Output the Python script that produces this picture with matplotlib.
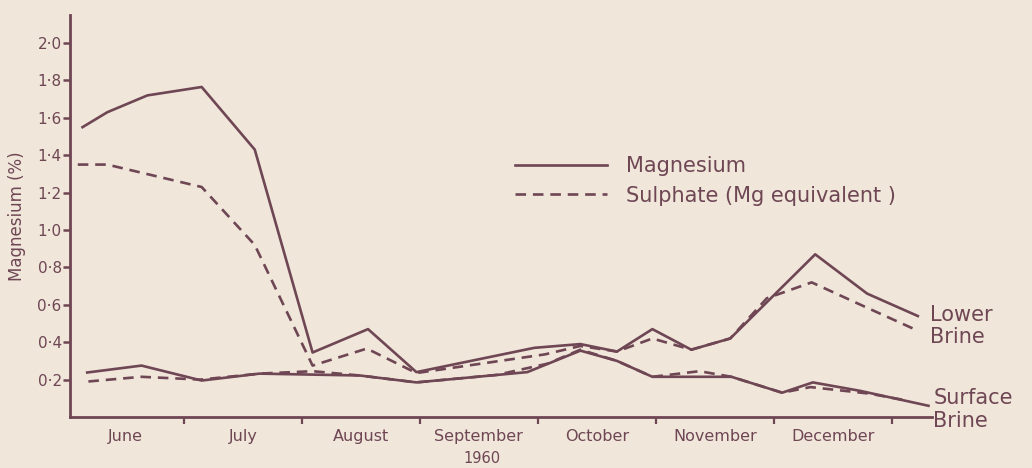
import matplotlib
matplotlib.use("Agg")
import matplotlib.pyplot as plt
from matplotlib.lines import Line2D

# x positions in month units (0 = start of June)
lower_mg_x = [0.14, 0.35, 0.69, 1.15, 1.60, 2.09, 2.56, 2.97, 3.97, 4.36, 4.67, 4.97, 5.30, 5.63, 6.35, 6.79, 7.22]
lower_mg_y = [1.55, 1.63, 1.72, 1.765, 1.43, 0.345, 0.47, 0.24, 0.37, 0.39, 0.35, 0.47, 0.36, 0.42, 0.87, 0.66, 0.54]

lower_so4_x = [0.10, 0.35, 1.15, 1.60, 2.09, 2.55, 2.97, 4.06, 4.36, 4.67, 4.97, 5.30, 5.63, 5.94, 6.32, 6.77, 7.19]
lower_so4_y = [1.35, 1.35, 1.23, 0.92, 0.275, 0.366, 0.235, 0.335, 0.38, 0.35, 0.42, 0.36, 0.42, 0.635, 0.72, 0.59, 0.47]

surf_mg_x = [0.18, 0.64, 1.15, 1.64, 2.49, 2.97, 3.91, 4.36, 4.67, 4.97, 5.64, 6.07, 6.33, 6.73, 7.31]
surf_mg_y = [0.238, 0.275, 0.195, 0.232, 0.222, 0.185, 0.24, 0.355, 0.30, 0.215, 0.215, 0.13, 0.185, 0.14, 0.06]

surf_so4_x = [0.19, 0.64, 1.14, 1.64, 2.09, 2.49, 2.97, 3.65, 4.08, 4.36, 4.67, 4.97, 5.37, 5.64, 6.07, 6.31, 6.81, 7.11]
surf_so4_y = [0.19, 0.215, 0.20, 0.232, 0.245, 0.222, 0.185, 0.225, 0.285, 0.36, 0.30, 0.215, 0.245, 0.215, 0.13, 0.16, 0.125, 0.09]

months = ["June", "July", "August", "September", "October", "November", "December"]
yticks = [0.2, 0.4, 0.6, 0.8, 1.0, 1.2, 1.4, 1.6, 1.8, 2.0]

ink = "#6e4654"
paper = "#f0e6da"
lw = 1.9
dash = (4, 2.6)

plt.rcParams['font.family'] = ['DejaVu Sans']

fig = plt.figure(figsize=(10.32, 4.68), dpi=100, facecolor=paper)
ax = fig.add_axes([70 / 1032, 51 / 468, 862 / 1032, 402 / 468])
ax.set_facecolor(paper)

ax.plot(lower_mg_x, lower_mg_y, color=ink, lw=lw)
ax.plot(lower_so4_x, lower_so4_y, color=ink, lw=lw, dashes=dash)
ax.plot(surf_mg_x, surf_mg_y, color=ink, lw=lw)
ax.plot(surf_so4_x, surf_so4_y, color=ink, lw=lw, dashes=dash)

ax.set_xlim(0.034, 7.34)
ax.set_ylim(0, 2.15)

for side in ["top", "right"]:
    ax.spines[side].set_visible(False)
for side in ["left", "bottom"]:
    ax.spines[side].set_color(ink)
    ax.spines[side].set_linewidth(2)

ax.set_yticks(yticks)
ax.set_yticklabels([f"{v:.1f}".replace(".", "·") for v in yticks])
ax.tick_params(axis='y', colors=ink, direction='out', length=5, width=1.8, labelsize=11, pad=1)

# month boundaries as ticks, names centred between them
ax.set_xticks(range(1, 8))
ax.set_xticklabels([])
ax.tick_params(axis='x', colors=ink, direction='out', length=5, width=1.6)
for i, m in enumerate(months):
    ax.text(i + 0.5, -0.105, m, color=ink, fontsize=11.5, ha='center', va='center', clip_on=False)
ax.text(3.53, -0.22, "1960", color=ink, fontsize=10.5, ha='center', va='center', clip_on=False)

ax.set_ylabel("Magnesium (%)", color=ink, fontsize=12, labelpad=8)

ax.text(7.32, 0.487, "Lower\nBrine", color=ink, fontsize=15, ha='left', va='center',
        linespacing=1.12, clip_on=False)
ax.text(7.35, 0.04, "Surface\nBrine", color=ink, fontsize=15, ha='left', va='center',
        linespacing=1.2, clip_on=False)

handles = [Line2D([], [], color=ink, lw=lw),
           Line2D([], [], color=ink, lw=lw, dashes=dash)]
ax.legend(handles, ["Magnesium", "Sulphate (Mg equivalent )"], frameon=False, fontsize=15,
          labelcolor=ink, handlelength=4.4, handletextpad=0.9, labelspacing=0.45,
          loc='upper left', bbox_to_anchor=(0.495, 0.695))

fig.savefig("out.png", dpi=100, facecolor=paper)
